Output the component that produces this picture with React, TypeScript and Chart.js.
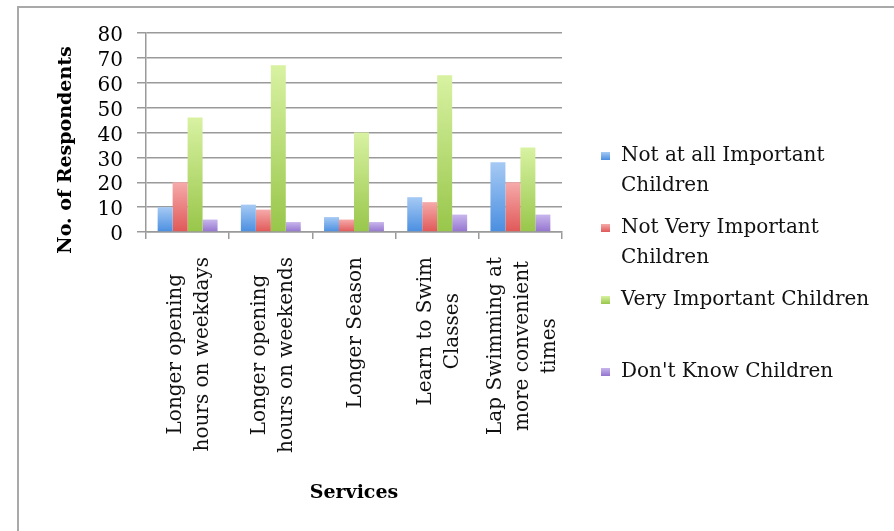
import React, { useEffect, useRef } from "react";
import { Chart, registerables } from "chart.js";

Chart.register(...registerables);

// ---- data ----
const categories: string[][] = [
  ["Longer opening", "hours on weekdays"],
  ["Longer opening", "hours on weekends"],
  ["Longer Season"],
  ["Learn to Swim", "Classes"],
  ["Lap Swimming at", "more convenient", "times"],
];
const seriesNames = [
  "Not at all Important Children",
  "Not Very Important Children",
  "Very Important Children",
  "Don't Know Children",
];
const legendLines: string[][] = [
  ["Not at all Important", "Children"],
  ["Not Very Important", "Children"],
  ["Very Important Children"],
  ["Don't Know Children"],
];
const notAtAllImportant = [10, 11, 6, 14, 28];
const notVeryImportant = [20, 9, 5, 12, 20];
const veryImportant = [46, 67, 40, 63, 34];
const dontKnow = [5, 4, 4, 7, 7];
const yMin = 0;
const yMax = 80;
const yStep = 10;
const yTitle = "No. of Respondents";
const xTitle = "Services";

// ---- styles ----
const FONT = '"DejaVu Serif", serif';
const seriesColors = [
  { top: "#a6caf4", bottom: "#4a8ee0", solid: "#6aa6ea" },
  { top: "#f6aaaa", bottom: "#e05858", solid: "#ee7878" },
  { top: "#d8f2a2", bottom: "#98c64a", solid: "#b6dc76" },
  { top: "#c8b6ec", bottom: "#9474ce", solid: "#a88edc" },
];

function barGradient(i: number) {
  return (ctx: any) => {
    const chart = ctx.chart;
    const col = seriesColors[i];
    if (!chart.chartArea || ctx.type !== "data" || !chart.scales.y) return col.solid;
    const y = chart.scales.y.getPixelForValue(ctx.raw);
    const y0 = chart.scales.y.getPixelForValue(0);
    if (!isFinite(y) || !isFinite(y0) || y === y0) return col.solid;
    const g = chart.ctx.createLinearGradient(0, y, 0, y0);
    g.addColorStop(0, col.top);
    g.addColorStop(1, col.bottom);
    return g;
  };
}

const decor = {
  id: "decor",
  afterDraw(chart: any) {
    const c: CanvasRenderingContext2D = chart.ctx;
    const xs = chart.scales.x;
    const area = chart.chartArea;
    c.save();

    // outer frame (top + left)
    c.strokeStyle = "#a9a9a9";
    c.lineWidth = 2;
    c.beginPath();
    c.moveTo(18, 531);
    c.lineTo(18, 7);
    c.lineTo(894, 7);
    c.stroke();

    // category labels (rotated, lines centered)
    c.fillStyle = "#111";
    c.font = `20px ${FONT}`;
    c.textAlign = "center";
    c.textBaseline = "middle";
    const LH = 27;
    categories.forEach((lines, i) => {
      const cx = xs.getPixelForValue(i) + 2;
      const L = Math.max(...lines.map((l) => c.measureText(l).width));
      const cy = area.bottom + 25 + L / 2;
      c.save();
      c.translate(cx, cy);
      c.rotate(-Math.PI / 2);
      lines.forEach((l, k) => c.fillText(l, 0, (k - (lines.length - 1) / 2) * LH));
      c.restore();
    });

    // axis titles
    c.font = `bold 19px ${FONT}`;
    c.fillStyle = "#000";
    c.save();
    c.translate(66, 150);
    c.rotate(-Math.PI / 2);
    c.fillText(yTitle, 0, 0);
    c.restore();
    c.fillText(xTitle, (area.left + area.right) / 2, 493);

    // legend
    c.font = `20px ${FONT}`;
    c.textAlign = "left";
    c.textBaseline = "alphabetic";
    legendLines.forEach((lines, i) => {
      const base = 161 + i * 72;
      const g = c.createLinearGradient(0, base - 9, 0, base - 1);
      g.addColorStop(0, seriesColors[i].top);
      g.addColorStop(1, seriesColors[i].bottom);
      c.fillStyle = g;
      c.fillRect(601, base - 9, 9, 8);
      c.fillStyle = "#111";
      lines.forEach((l, k) => c.fillText(l, 621, base + k * 30));
    });

    c.restore();
  },
};

export default function App() {
  const ref = useRef<HTMLCanvasElement | null>(null);

  useEffect(() => {
    if (!ref.current) return;
    Chart.defaults.font.family = FONT;
    const series = [notAtAllImportant, notVeryImportant, veryImportant, dontKnow];
    const chart = new Chart(ref.current, {
      type: "bar",
      data: {
        labels: categories,
        datasets: series.map((d, i) => ({
          label: seriesNames[i],
          data: d,
          backgroundColor: barGradient(i),
          borderWidth: 0,
          barPercentage: 1,
          categoryPercentage: 0.72,
        })),
      },
      options: {
        responsive: false,
        animation: false,
        events: [],
        layout: { padding: { top: 33, left: 0, right: 332, bottom: 0 } },
        plugins: {
          legend: { display: false },
          tooltip: { enabled: false },
          title: { display: false },
        },
        scales: {
          x: {
            offset: true,
            grid: {
              display: true,
              drawOnChartArea: false,
              drawTicks: true,
              tickLength: 7,
              offset: true,
              color: "#9a9a9a",
              lineWidth: 1.5,
            },
            border: { display: true, color: "#9a9a9a", width: 1.5 },
            ticks: { display: false },
            afterFit: (s: any) => {
              s.height = 531 - 232;
            },
          },
          y: {
            min: yMin,
            max: yMax,
            grid: {
              color: "#9a9a9a",
              lineWidth: 1.5,
              drawTicks: true,
              tickLength: 9,
            },
            border: { display: true, color: "#9a9a9a", width: 1.5 },
            ticks: {
              stepSize: yStep,
              autoSkip: false,
              color: "#000",
              padding: 14,
              labelOffset: 3,
              font: { size: 20, family: FONT },
            },
            afterFit: (s: any) => {
              s.width = 146;
            },
          },
        },
      },
      plugins: [decor],
    });
    return () => chart.destroy();
  }, []);

  return (
    <div style={{ position: "absolute", left: 0, top: 0, width: 894, height: 531, background: "#fff" }}>
      <canvas ref={ref} width={894} height={531} style={{ display: "block" }} />
    </div>
  );
}
